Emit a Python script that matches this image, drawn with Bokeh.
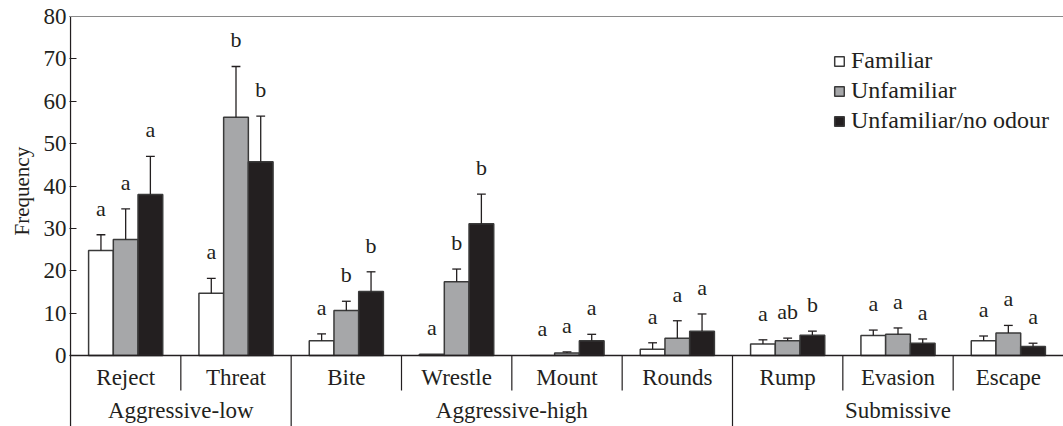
from bokeh.plotting import figure
from bokeh.models import ColumnDataSource, Span, Legend, LegendItem, FixedTicker, Range1d, Title
from bokeh.core.properties import value
from bokeh.embed import file_html
from bokeh.resources import INLINE

# ---- data -------------------------------------------------------------
categories = ["Reject", "Threat", "Bite", "Wrestle", "Mount", "Rounds",
              "Rump", "Evasion", "Escape"]
groups = ["Aggressive-low", "Aggressive-high", "Submissive"]
group_index = [0, 0, 1, 1, 1, 1, 2, 2, 2]

series_names = ["Familiar", "Unfamiliar", "Unfamiliar/no odour"]

familiar_mean = [24.8, 14.7, 3.5, 0.3, 0.0, 1.5, 2.7, 4.7, 3.5]
familiar_se = [3.7, 3.5, 1.6, 0.0, 0.0, 1.5, 1.0, 1.3, 1.1]
unfamiliar_mean = [27.4, 56.2, 10.6, 17.4, 0.6, 4.1, 3.5, 5.0, 5.3]
unfamiliar_se = [7.2, 12.0, 2.2, 3.0, 0.25, 4.1, 0.6, 1.5, 1.8]
no_odour_mean = [38.0, 45.7, 15.1, 31.1, 3.5, 5.7, 4.8, 2.9, 2.1]
no_odour_se = [9.0, 10.8, 4.65, 7.0, 1.5, 4.1, 0.95, 1.0, 0.8]

familiar_letters = ["a", "a", "a", "a", "a", "a", "a", "a", "a"]
unfamiliar_letters = ["a", "b", "b", "b", "a", "a", "ab", "a", "a"]
no_odour_letters = ["a", "b", "b", "b", "a", "a", "b", "a", "a"]

y_ticks = [0, 10, 20, 30, 40, 50, 60, 70, 80]

means = [familiar_mean, unfamiliar_mean, no_odour_mean]
ses = [familiar_se, unfamiliar_se, no_odour_se]
letters = [familiar_letters, unfamiliar_letters, no_odour_letters]

# ---- styling / layout -------------------------------------------------
FONT = "Liberation Serif"
INK = "#231f20"
FILLS = ["#ffffff", "#a6a7a9", "#231f20"]
EDGE = "#3a3a3a"

W, H = 1063, 426
LEFT, TOP = 69, 14
PX = 339 / 80.0                 # pixels per frequency unit
Y_MAX = max(y_ticks)
y_top = Y_MAX + (16 - TOP) / PX
y_bottom = y_top - (H - TOP) / PX

n = len(categories)
cat_px = (W - LEFT - 1) / n
x_start = -0.5 - 1.0 / cat_px

bar_w = 0.224
offsets = [-bar_w, 0.0, bar_w]
cap_half = 0.04

def px_below(px):
    return -px / PX

p = figure(width=W, height=H,
           x_range=Range1d(x_start, n - 0.5),
           y_range=Range1d(y_bottom, y_top),
           output_backend="svg", toolbar_location=None,
           x_axis_location=None,
           min_border_left=LEFT, min_border_right=0,
           min_border_top=TOP, min_border_bottom=0)
p.outline_line_color = None
p.grid.visible = False

# y axis
ax = p.yaxis[0]
ax.ticker = FixedTicker(ticks=y_ticks)
ax.bounds = (0, Y_MAX)
ax.axis_line_color = None
ax.major_tick_in = 7
ax.major_tick_out = 0
ax.minor_tick_line_color = None
ax.major_tick_line_color = INK
ax.major_tick_line_width = 1.2
ax.major_label_standoff = 3
ax.major_label_text_font = FONT
ax.major_label_text_font_size = "23px"
ax.major_label_text_color = INK

# axis title, centred on the 0-80 part of the axis
p.add_layout(Title(text="Frequency", align="left", offset=191,
                   text_font=FONT, text_font_size="21px", text_font_style="normal",
                   text_color=INK, standoff=13), "left")

# top rule and baseline
p.add_layout(Span(location=Y_MAX, dimension="width", line_color="#8a8a8a", line_width=1))
p.add_layout(Span(location=0, dimension="width", line_color=INK, line_width=1.3))

# left axis line running down through the label area
p.segment(x0=[-0.5], y0=[Y_MAX], x1=[-0.5], y1=[y_bottom], line_color=INK, line_width=1.3)

# separators under the baseline
short_x, long_x = [], []
for i in range(1, n):
    if group_index[i] == group_index[i - 1]:
        short_x.append(i - 0.5)
    else:
        long_x.append(i - 0.5)
short_end = px_below(35)
p.segment(x0=short_x, y0=[0] * len(short_x), x1=short_x, y1=[short_end] * len(short_x),
          line_color=INK, line_width=1.2)
p.segment(x0=long_x, y0=[0] * len(long_x), x1=long_x, y1=[y_bottom] * len(long_x),
          line_color=INK, line_width=1.2)

# bars, error bars and letters
renderers = []
for s in range(3):
    xs = [i + offsets[s] for i in range(n)]
    src = ColumnDataSource(dict(x=xs, top=means[s]))
    r = p.vbar(x="x", top="top", bottom=0, width=bar_w, source=src,
               fill_color=FILLS[s], line_color=EDGE, line_width=1.5)
    renderers.append(r)

    ex = [x for x, e in zip(xs, ses[s]) if e > 0]
    ey0 = [m for m, e in zip(means[s], ses[s]) if e > 0]
    ey1 = [m + e for m, e in zip(means[s], ses[s]) if e > 0]
    p.segment(x0=ex, y0=ey0, x1=ex, y1=ey1, line_color=INK, line_width=1.3)
    p.segment(x0=[x - cap_half for x in ex], y0=ey1, x1=[x + cap_half for x in ex], y1=ey1,
              line_color=INK, line_width=1.3)

    ly = [m + e + 6.3 for m, e in zip(means[s], ses[s])]
    p.text(x=xs, y=ly, text=letters[s], text_font=value(FONT), text_font_size="22px",
           text_align="center", text_baseline="middle", text_color=INK)

# category and group labels
p.text(x=list(range(n)), y=[px_below(22)] * n, text=categories,
       text_font=value(FONT), text_font_size="23px", text_align="center",
       text_baseline="middle", text_color=INK)
gx = []
for g in range(len(groups)):
    members = [i for i in range(n) if group_index[i] == g]
    gx.append((members[0] + members[-1]) / 2.0)
p.text(x=gx, y=[px_below(55)] * len(groups), text=groups,
       text_font=value(FONT), text_font_size="23px", text_align="center",
       text_baseline="middle", text_color=INK)

legend = Legend(items=[LegendItem(label=series_names[s], renderers=[renderers[s]]) for s in range(3)],
                location=(764, 292))
legend.background_fill_alpha = 0
legend.border_line_color = None
legend.label_text_font = FONT
legend.label_text_font_size = "24px"
legend.label_text_color = INK
legend.glyph_width = 12
legend.glyph_height = 12
legend.spacing = 3
legend.padding = 6
legend.margin = 0
legend.label_standoff = 6
p.add_layout(legend)

open("out.html", "w").write(file_html(p, INLINE))
